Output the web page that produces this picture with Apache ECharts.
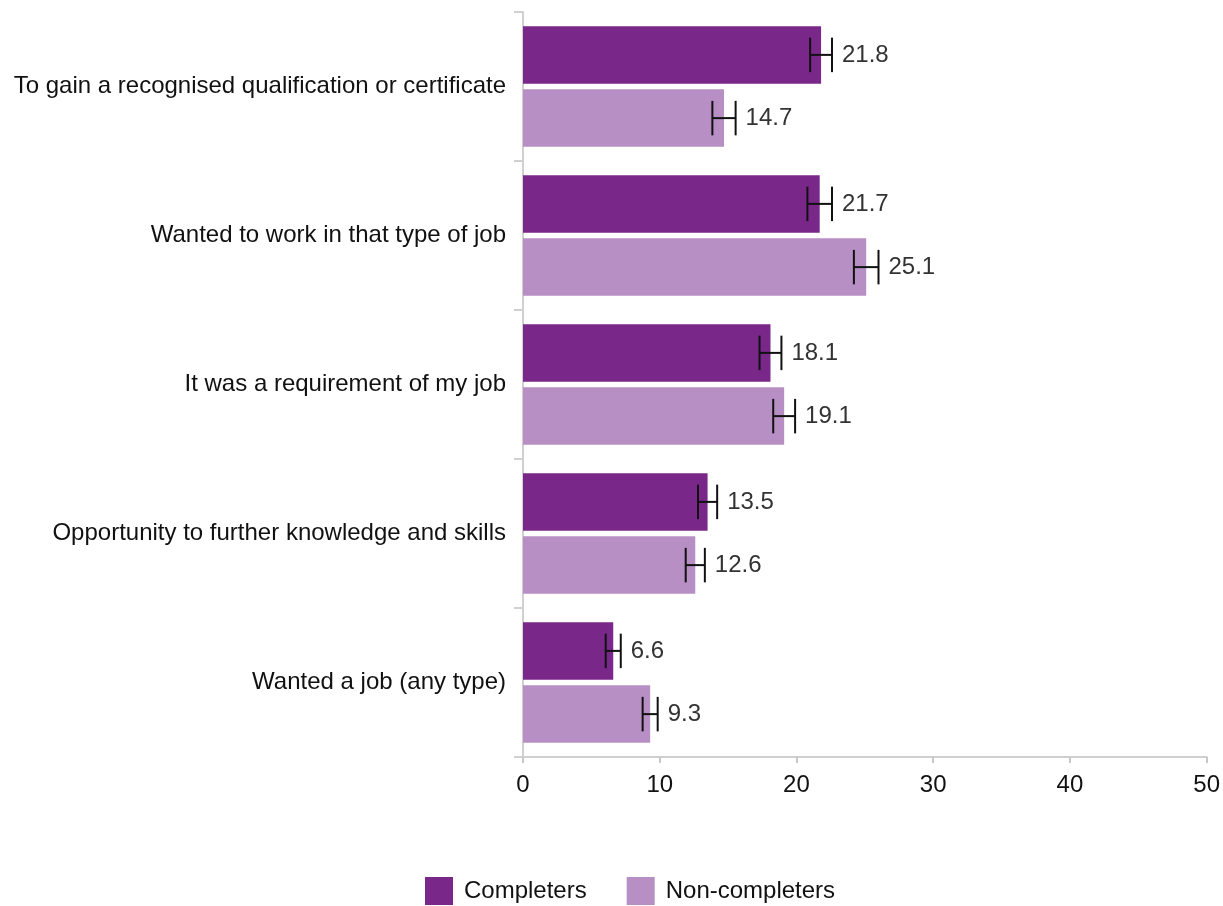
<!DOCTYPE html>
<html>
<head>
<meta charset="utf-8">
<script src="https://cdn.jsdelivr.net/npm/echarts@6/dist/echarts.min.js"></script>
<style>
  html, body { margin: 0; padding: 0; background: #fff; }
  #chart { width: 1223px; height: 906px; }
</style>
</head>
<body>
<div id="chart"></div>
<script>
// Reasons for starting the course, % of respondents
const categories = [
  'To gain a recognised qualification or certificate',
  'Wanted to work in that type of job',
  'It was a requirement of my job',
  'Opportunity to further knowledge and skills',
  'Wanted a job (any type)'
];
const completers = [21.8, 21.7, 18.1, 13.5, 6.6];
const nonCompleters = [14.7, 25.1, 19.1, 12.6, 9.3];
// Half-width of the confidence interval around each estimate
const completersErr = [0.8, 0.9, 0.8, 0.7, 0.55];
const nonCompletersErr = [0.85, 0.9, 0.8, 0.7, 0.55];
const xTicks = { min: 0, max: 50, interval: 10 };

const colors = { completers: '#79288A', nonCompleters: '#B78FC4' };
const fontFamily = '"Liberation Sans", Arial, Helvetica, sans-serif';

const BAR_CATEGORY_GAP = 0.19;
const BAR_GAP = 0.10;

// Error bar + value label for one of the two bars in a category band
function makeErrorRender(slot) {
  return function (params, api) {
    const value = api.value(0);
    const cat = api.value(1);
    const err = api.value(2);
    const bandH = api.size([0, 1])[1];
    const avail = bandH * (1 - BAR_CATEGORY_GAP);
    const barW = avail / (2 + BAR_GAP);
    const offset = (barW * (1 + BAR_GAP)) / 2 * (slot === 0 ? -1 : 1);
    const center = api.coord([value, cat]);
    const y = center[1] + offset;
    const lo = api.coord([value - err, cat])[0];
    const hi = api.coord([value + err, cat])[0];
    const capH = barW * 0.6;
    const style = { stroke: '#111', lineWidth: 2 };
    return {
      type: 'group',
      children: [
        { type: 'line', shape: { x1: lo, y1: y, x2: hi, y2: y }, style: style },
        { type: 'line', shape: { x1: lo, y1: y - capH / 2, x2: lo, y2: y + capH / 2 }, style: style },
        { type: 'line', shape: { x1: hi, y1: y - capH / 2, x2: hi, y2: y + capH / 2 }, style: style },
        {
          type: 'text',
          x: hi + 10,
          y: y,
          style: {
            text: value.toFixed(1),
            fill: '#333',
            font: '24px ' + fontFamily,
            textVerticalAlign: 'middle',
            textAlign: 'left'
          }
        }
      ]
    };
  };
}

const chart = echarts.init(document.getElementById('chart'), null, { renderer: 'canvas' });

chart.setOption({
  animation: false,
  backgroundColor: '#fff',
  textStyle: { fontFamily: fontFamily },
  grid: { left: 523, right: 15, top: 12, bottom: 149, containLabel: false },
  legend: {
    left: 425,
    top: 877,
    padding: 0,
    icon: 'rect',
    itemWidth: 28,
    itemHeight: 28,
    itemGap: 40,
    data: ['Completers', 'Non-completers'],
    textStyle: { fontSize: 24, color: '#111', padding: [0, 0, 0, 6], fontFamily: fontFamily }
  },
  xAxis: {
    type: 'value',
    min: xTicks.min,
    max: xTicks.max,
    interval: xTicks.interval,
    axisLine: { show: true, lineStyle: { color: '#d0d0d0', width: 2 } },
    axisTick: { show: true, length: 6, lineStyle: { color: '#c8c8c8', width: 2 } },
    splitLine: { show: false },
    axisLabel: { fontSize: 24, color: '#111', margin: 16, fontFamily: fontFamily }
  },
  yAxis: {
    type: 'category',
    inverse: true,
    data: categories,
    axisLine: { show: true, lineStyle: { color: '#d0d0d0', width: 2 } },
    axisTick: { show: true, length: 9, lineStyle: { color: '#d0d0d0', width: 2 } },
    axisLabel: { fontSize: 24, color: '#111', margin: 17, fontFamily: fontFamily }
  },
  series: [
    {
      name: 'Completers',
      type: 'bar',
      data: completers,
      itemStyle: { color: colors.completers },
      barCategoryGap: (BAR_CATEGORY_GAP * 100) + '%',
      barGap: (BAR_GAP * 100) + '%'
    },
    {
      name: 'Non-completers',
      type: 'bar',
      data: nonCompleters,
      itemStyle: { color: colors.nonCompleters },
      barCategoryGap: (BAR_CATEGORY_GAP * 100) + '%',
      barGap: (BAR_GAP * 100) + '%'
    },
    {
      type: 'custom',
      name: 'completersErr',
      renderItem: makeErrorRender(0),
      encode: { x: 0, y: 1 },
      data: completers.map((v, i) => [v, i, completersErr[i]]),
      z: 10,
      silent: true
    },
    {
      type: 'custom',
      name: 'nonCompletersErr',
      renderItem: makeErrorRender(1),
      encode: { x: 0, y: 1 },
      data: nonCompleters.map((v, i) => [v, i, nonCompletersErr[i]]),
      z: 10,
      silent: true
    }
  ]
});
</script>
</body>
</html>
